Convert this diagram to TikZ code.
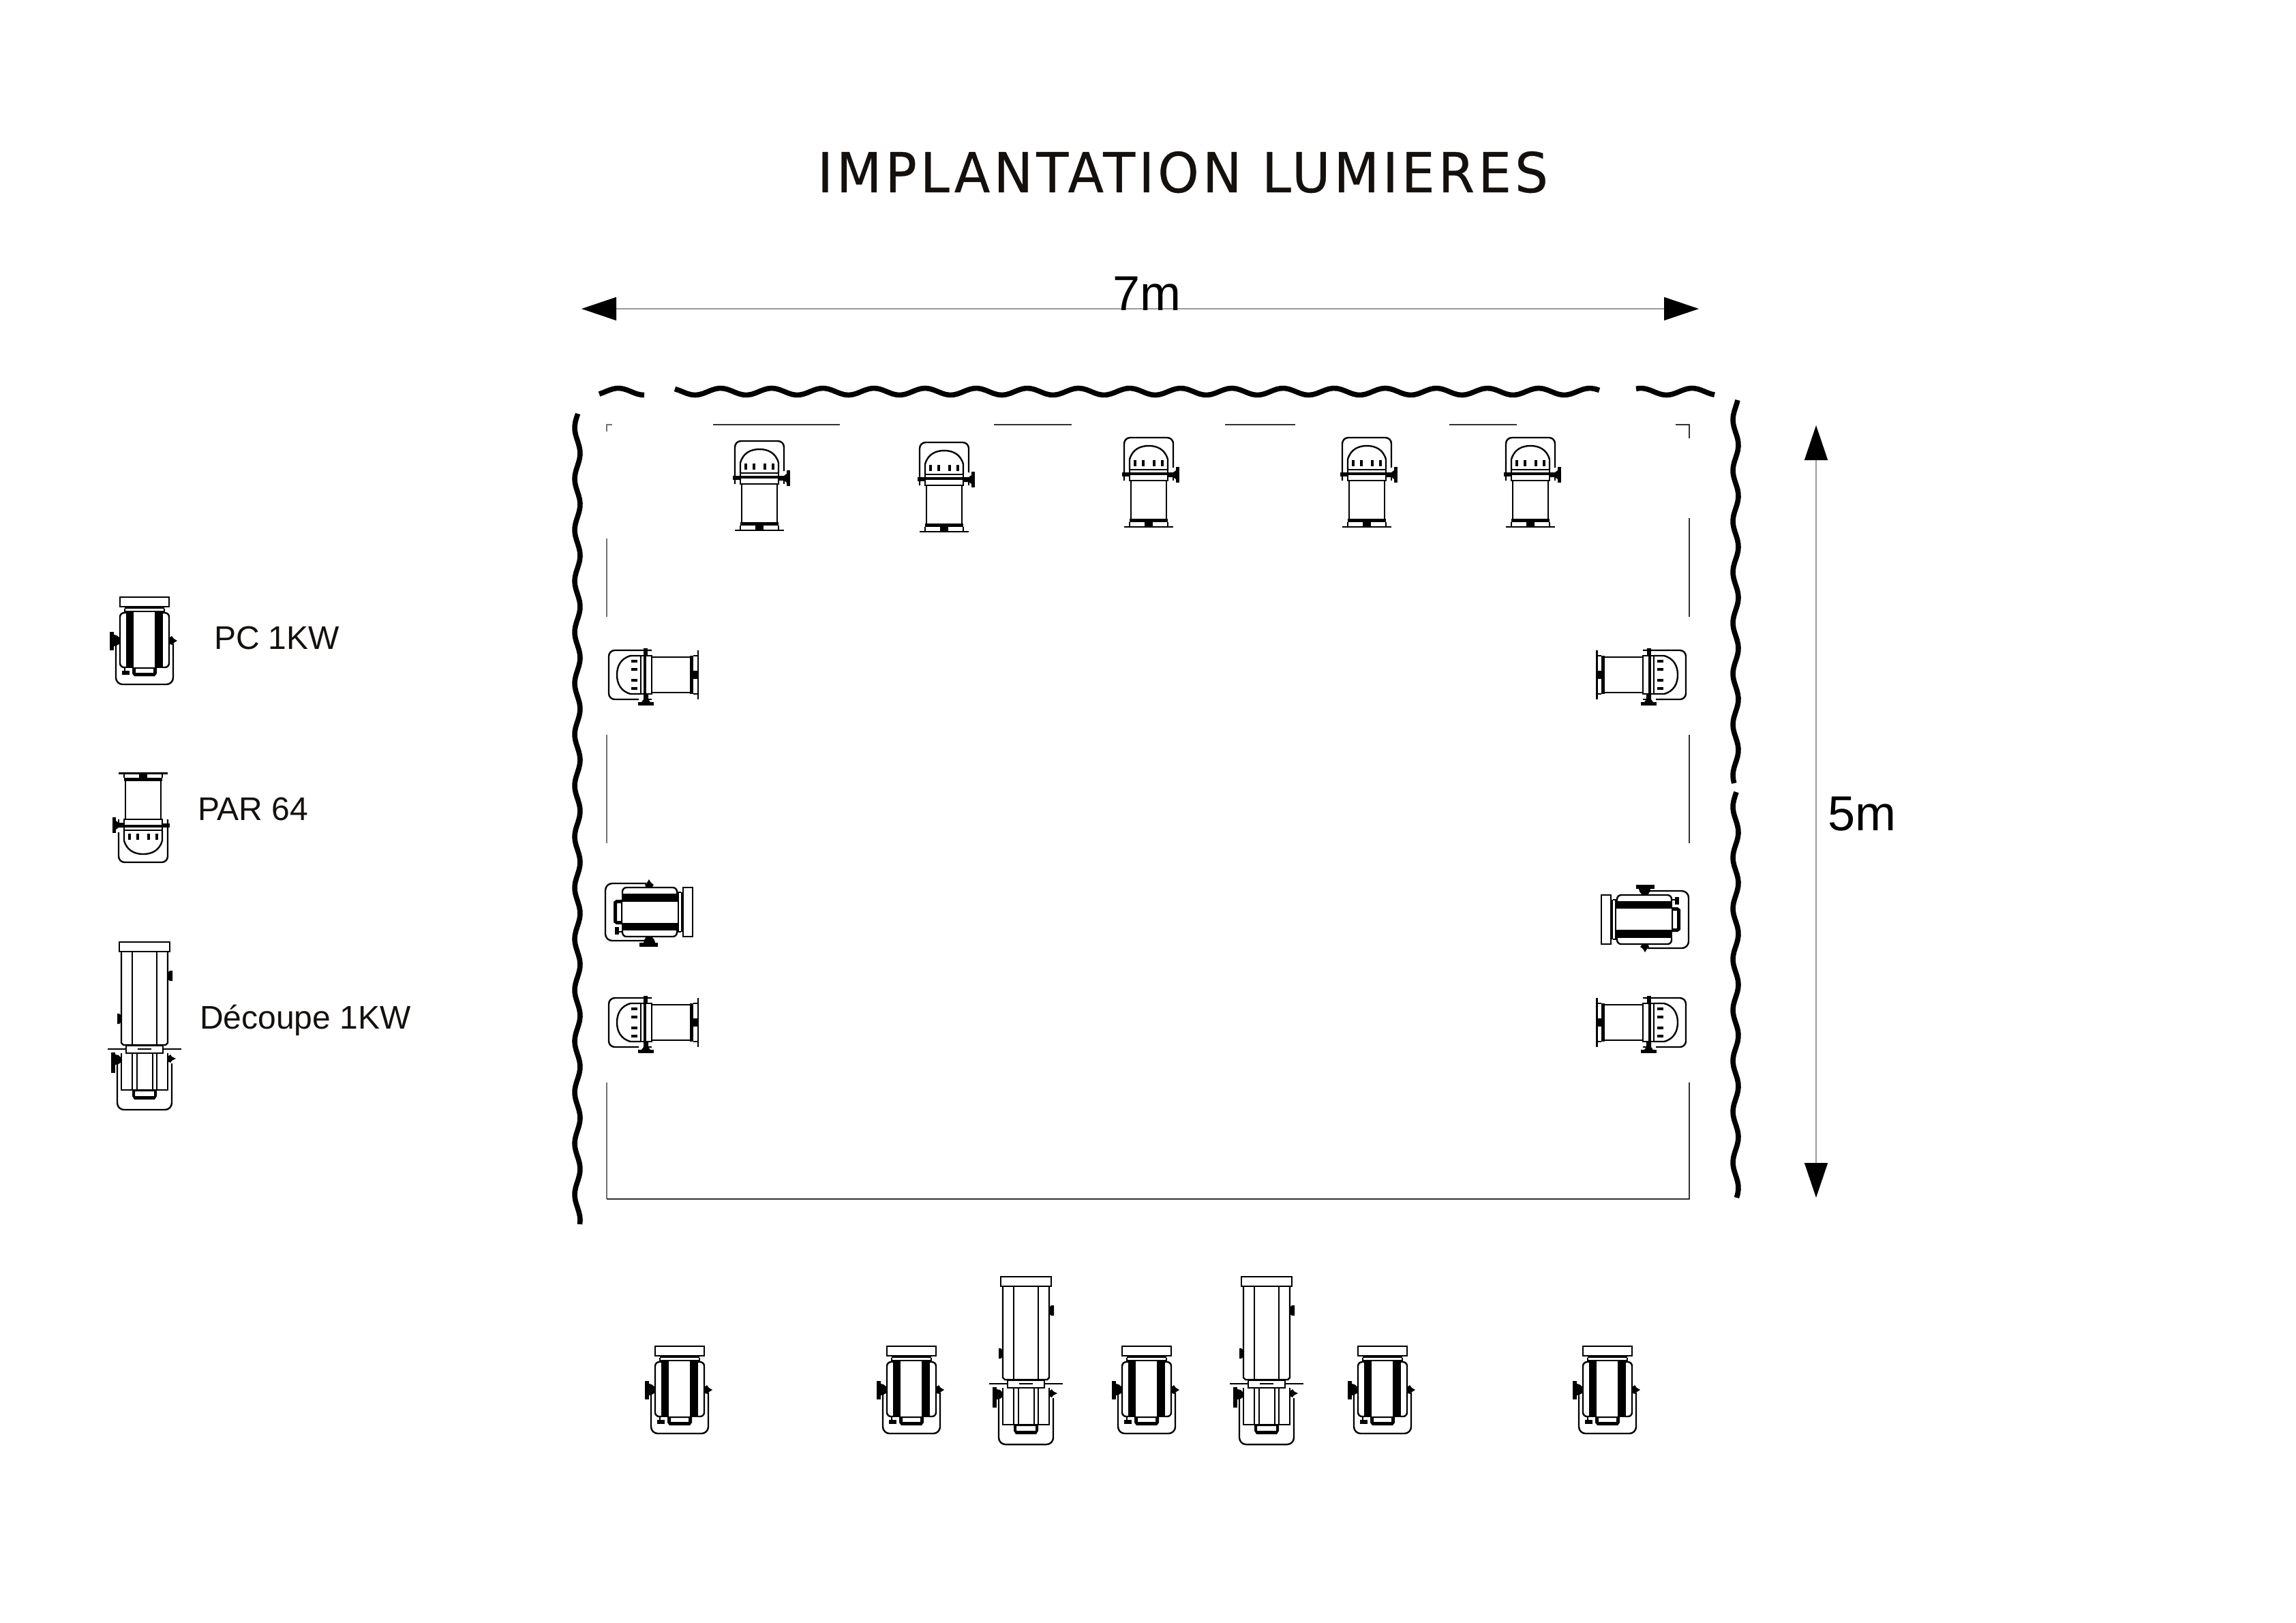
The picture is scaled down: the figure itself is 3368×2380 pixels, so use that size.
\documentclass[tikz,border=0pt]{standalone}
\usepackage{fontspec}
\setmainfont{Liberation Sans}
\newfontfamily\titlefont[LetterSpace=6.5,FakeStretch=0.95,FakeBold=0.4]{DejaVu Sans}
\usetikzlibrary{arrows.meta}
\definecolor{inkc}{HTML}{14100E}
\tikzset{
  fx/.style={draw=black,line width=0.6pt,line cap=butt},
  fxthick/.style={draw=black,line width=0.85pt},
  blk/.style={fill=black},
  curtain/.style={draw=black,line width=1.9pt,line join=round},
  stageline/.style={draw=black!80,line width=0.3pt},
  stagegrey/.style={draw=black!55,line width=0.4pt},
  dimline/.style={draw=black!40,line width=0.4pt,{Triangle[length=12.75pt,width=8.5pt,color=black,fill=black]}-{Triangle[length=12.75pt,width=8.5pt,color=black,fill=black]}},
  lab/.style={anchor=base west,inner sep=0pt,outer sep=0pt,font=\fontsize{12}{14}\selectfont,text=inkc},
  dimlab/.style={anchor=base,inner sep=0pt,outer sep=0pt,font=\fontsize{18}{20}\selectfont,text=black},
  parlamp/.pic={
    \draw[fx,rounded corners=2.2pt] (-36,63)--(-36,0)--(36,0)--(36,44);
    \draw[fx] (36,58)--(36,63);
    \draw[fx] (-28,47)--(-28,32) .. controls (-24,17) and (-12,12) .. (0,12) .. controls (12,12) and (24,17) .. (28,32)--(28,47);
    \foreach \t in {-20,-8,8,20}{\draw[fxthick] (\t,33)--(\t,42);}
    \draw[fx] (-28,47) rectangle (28,63);
    \draw[fxthick] (-28,53)--(28,53);
    \draw[fx] (-26,63) rectangle (26,121);
    \fill[blk] (-28,119) rectangle (28,124);
    \draw[fx] (-28,124)--(-28,130) (28,124)--(28,130);
    \fill[blk] (-6,124) rectangle (6,131);
    \fill[blk] (-36,129.5) rectangle (36,132);
    \fill[blk] (40,43) rectangle (45,66);
    \fill[blk] (28,51) -- (36,51) -- (40,48) -- (40,61) -- (36,58) -- (28,58) -- cycle;
    \fill[blk] (-39,51) rectangle (-28,57);
  },
  pclamp/.pic={
    \draw[fx] (-36,0) rectangle (36,14);
    \fill[blk] (-29,13) rectangle (29,17);
    \draw[fx] (-29,17)--(-29,22) (29,17)--(29,22);
    \draw[fx] (-29,21)--(29,21);
    \draw[fx,rounded corners=1.5pt] (-27,23)--(-36,23)--(-36,103)--(-27,103);
    \draw[fx,rounded corners=1.5pt] (27,23)--(36,23)--(36,103)--(27,103);
    \fill[blk] (-27,21) rectangle (-16,104);
    \fill[blk] (15,21) rectangle (27,104);
    \fill[blk,even odd rule] (-18,103) -- (18,103) -- (18,112) -- (15,116) -- (-15,116) -- (-18,112) -- cycle (-13,105) rectangle (13,111);
    \draw[fx] (-29,103)--(-29,109);
    \fill[blk] (-33,108) rectangle (-22,114);
    \draw[fx,rounded corners=2.5pt] (-42,68)--(-42,128)--(42,128)--(42,68);
    \fill[blk] (-51,51) rectangle (-45,78);
    \fill[blk] (-45,55) -- (-41,56) -- (-36,60) -- (-36,68) -- (-41,71) -- (-45,72) -- cycle;
    \fill[blk] (36,60) -- (40,57) -- (43,61) -- (48,64) -- (43,67) -- (40,70) -- (36,68) -- cycle;
  },
  declamp/.pic={
    \draw[fx] (-37,0) rectangle (37,14);
    \draw[fx] (-34,14)--(-34,148)--(-31,151)--(31,151)--(34,148)--(34,14);
    \draw[fx] (-18,14)--(-18,151) (18,14)--(18,151);
    \fill[blk] (34,45) -- (37,42) -- (41,42) -- (41,57) -- (37,57) -- (34,54) -- cycle;
    \fill[blk] (-34,108) -- (-37,105) -- (-40,105) -- (-40,120) -- (-37,120) -- (-34,117) -- cycle;
    \draw[fx] (-54,157)--(-27,157) (27,157)--(54,157);
    \draw[fx] (-27,152) rectangle (27,163);
    \fill[blk] (-10,156.2) rectangle (10,158);
    \draw[fx] (-34,163)--(-34,217)--(34,217)--(34,163);
    \draw[fx] (-27,163)--(27,163);
    \draw[fx] (-18,163)--(-18,217) (-11,163)--(-11,217) (12,163)--(12,217) (18,163)--(18,217);
    \fill[blk,even odd rule] (-18,217) -- (18,217) -- (18,226) -- (15,231) -- (-15,231) -- (-18,226) -- cycle (-14,219) rectangle (14,226);
    \draw[fx,rounded corners=2.5pt] (-40,178)--(-40,246)--(40,246)--(40,178);
    \fill[blk] (-49,162) rectangle (-43,192);
    \fill[blk] (-43,165) -- (-38,166) -- (-34,170) -- (-34,176) -- (-38,179) -- (-43,180) -- cycle;
    \fill[blk] (34,168) -- (38,165) -- (40,168) -- (46,171) -- (40,174) -- (38,177) -- (34,175) -- cycle;
  }
}
\begin{document}
\begin{tikzpicture}[x=0.25pt,y=-0.25pt]
\useasboundingbox (0,0) rectangle (3368,2380);
% title and dimensions
\node[anchor=base,inner sep=0pt,font=\titlefont\fontsize{20.2}{24}\selectfont,text=inkc] (title) at (1735,282) {IMPLANTATION LUMIERES};
\coordinate (wA) at (853,453); \coordinate (wB) at (2492,453);
\coordinate (hA) at (2664,624); \coordinate (hB) at (2664,1757);
\draw[dimline] (wA)--(wB);
\draw[dimline] (hA)--(hB);
\node[dimlab] (seven) at (1682,455) {7m};
\node[dimlab] (five) at (2731,1218) {5m};
% curtains
\draw[curtain] plot[domain=879:945,samples=14] (\x,{574.5-5*cos((\x-1057)*4.8)});
\draw[curtain] plot[domain=990:2346,samples=230] (\x,{574.5-5*cos((\x-1057)*4.8)});
\draw[curtain] plot[domain=2400:2515,samples=24] (\x,{574.5-5*cos((\x-1057)*4.8)});
\draw[curtain] plot[domain=607:1796,samples=200] ({847+4*cos((\x-740)*4.8)},\x);
\draw[curtain] plot[domain=587:1149,samples=100] ({2546+4*cos((\x-653)*4.83)},\x);
\draw[curtain] plot[domain=1162:1757,samples=100] ({2546+4*cos((\x-1370)*4.83)},\x);
% stage outline
\draw[stagegrey] (898,623)--(890,623)--(890,633);
\draw[stagegrey] (890,790)--(890,905) (890,1078)--(890,1237) (890,1588)--(890,1759);
\draw[stageline] (890,1759)--(2478,1759)--(2478,1588);
\draw[stageline] (2478,1237)--(2478,1078) (2478,905)--(2478,760) (2478,643)--(2478,623)--(2458,623);
\draw[stageline] (1046,623)--(1232,623) (1458,623)--(1572,623) (1797,623)--(1900,623) (2126,623)--(2225,623);
% top row
\foreach \cx/\ty in {1114/647,1385/649,1685/642,2005/642,2245/642}{
  \path[shift={(\cx,\ty)}] pic {parlamp};}
% side PAR
\foreach \ty in {990,1500}{
  \begin{scope}[shift={(893,\ty)},cm={0,-1,-1,0,(0,0)}] \pic[transform shape] {parlamp}; \end{scope}
  \begin{scope}[shift={(2473,\ty)},cm={0,-1,1,0,(0,0)}] \pic[transform shape] {parlamp}; \end{scope}
}
% side PC
\begin{scope}[shift={(1016,1338)},cm={0,1,1,0,(0,0)}] \pic[transform shape] {pclamp}; \end{scope}
\begin{scope}[shift={(2349,1349)},cm={0,-1,-1,0,(0,0)}] \pic[transform shape] {pclamp}; \end{scope}
% bottom row
\foreach \cx in {997,1337,1682,2028,2358}{
  \path[shift={(\cx,1975)}] pic {pclamp};}
\foreach \cx in {1505,1858}{
  \path[shift={(\cx,1873)}] pic {declamp};}
% legend
\path[shift={(212,876)}] pic {pclamp};
\begin{scope}[shift={(210,1265)},cm={-1,0,0,-1,(0,0)}] \pic[transform shape] {parlamp}; \end{scope}
\path[shift={(212,1382)}] pic {declamp};
\node[lab] (lpc) at (314,952) {PC 1KW};
\node[lab] (lpar) at (290,1203) {PAR 64};
\node[lab] (ldec) at (293,1509) {Découpe 1KW};
\end{tikzpicture}
\end{document}
